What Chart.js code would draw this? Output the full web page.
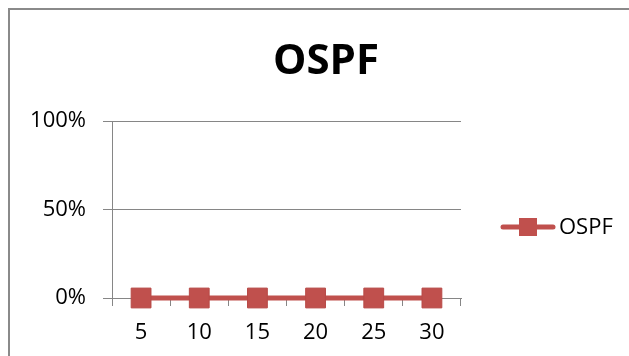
<!DOCTYPE html>
<html>
<head>
<meta charset="utf-8">
<script src="https://cdn.jsdelivr.net/npm/chart.js@4/dist/chart.umd.min.js"></script>
<style>
  html, body { margin: 0; padding: 0; background: #fff; overflow: hidden; }
  #wrap { position: relative; width: 629px; height: 356px; }
  #frame { position: absolute; left: 8px; top: 8px; width: 700px; height: 400px;
           border-top: 2px solid #8a8a8a; border-left: 2px solid #8a8a8a; pointer-events: none; }
  canvas { position: absolute; left: 0; top: 0; }
</style>
</head>
<body>
<div id="wrap">
  <canvas id="c" width="629" height="356"></canvas>
  <div id="frame"></div>
</div>
<script>
const chartTitle = "OSPF";
const categories = ["5", "10", "15", "20", "25", "30"];
const seriesName = "OSPF";
const seriesValues = [0, 0, 0, 0, 0, 0];
const yTicks = [0, 0.5, 1];

const lineColor = "#C0504D";
const axisColor = "#868686";
const FONT = "'Open Sans', 'Liberation Sans', sans-serif";

const legendPlugin = {
  id: 'customLegend',
  afterDraw(chart) {
    const ctx = chart.ctx;
    const ds = chart.data.datasets[0];
    const y = 227;
    ctx.save();
    ctx.strokeStyle = ds.borderColor;
    ctx.lineWidth = 5;
    ctx.lineCap = 'round';
    ctx.beginPath();
    ctx.moveTo(503, y);
    ctx.lineTo(553, y);
    ctx.stroke();
    ctx.fillStyle = ds.pointBackgroundColor;
    ctx.fillRect(528 - 9, y - 9, 18, 18);
    ctx.fillStyle = '#000';
    ctx.font = "22px " + FONT;
    ctx.textBaseline = 'middle';
    ctx.textAlign = 'left';
    ctx.fillText(ds.label, 559, y + 1);
    ctx.restore();
  }
};

new Chart(document.getElementById('c'), {
  type: 'line',
  data: {
    labels: categories,
    datasets: [{
      label: seriesName,
      data: seriesValues,
      borderColor: lineColor,
      backgroundColor: lineColor,
      borderWidth: 5,
      pointStyle: 'rect',
      pointRadius: 14,
      pointHoverRadius: 14,
      pointBackgroundColor: lineColor,
      pointBorderColor: '#B84A47',
      pointBorderWidth: 1,
      tension: 0,
      clip: false,
      yAxisID: 'y'
    }]
  },
  options: {
    responsive: false,
    animation: false,
    events: [],
    layout: { padding: { left: 23, right: 0, top: 0, bottom: 0 } },
    plugins: {
      legend: { display: false },
      tooltip: { enabled: false },
      title: {
        display: true,
        text: chartTitle,
        color: '#000',
        font: { family: FONT, size: 42, weight: 'bold', lineHeight: 1.2 },
        padding: { top: 37, bottom: 33.6 }
      }
    },
    scales: {
      x: {
        type: 'category',
        offset: true,
        grid: {
          offset: true,
          drawOnChartArea: false,
          drawTicks: true,
          tickLength: 8,
          color: axisColor,
          lineWidth: 1
        },
        border: { display: true, color: axisColor, width: 1 },
        ticks: {
          color: '#000',
          font: { family: FONT, size: 22 },
          padding: 14,
          maxRotation: 0,
          autoSkip: false
        },
        afterFit(scale) { scale.height = 58; }
      },
      y: {
        type: 'linear',
        position: 'left',
        min: 0,
        max: 1,
        afterBuildTicks(scale) { scale.ticks = yTicks.map(v => ({ value: v })); },
        grid: {
          drawOnChartArea: true,
          drawTicks: true,
          tickLength: 9,
          color: axisColor,
          lineWidth: 1
        },
        border: { display: true, color: axisColor, width: 1 },
        ticks: {
          color: '#000',
          font: { family: FONT, size: 22 },
          padding: 17,
          callback: v => Math.round(v * 100) + '%'
        },
        afterFit(scale) { scale.width = 89; }
      },
      legendSpace: {
        type: 'linear',
        position: 'right',
        display: true,
        min: 0,
        max: 1,
        grid: { display: false, drawTicks: false },
        border: { display: false },
        ticks: { display: false },
        afterFit(scale) { scale.width = 168; }
      }
    }
  },
  plugins: [legendPlugin]
});
</script>
</body>
</html>
